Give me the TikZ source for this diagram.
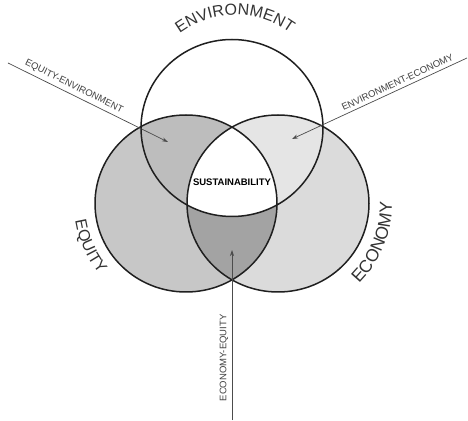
\documentclass[tikz,border=0pt]{standalone}
\usepackage{fontspec}
\setmainfont{Liberation Sans}
\usetikzlibrary{decorations.text,arrows.meta}

\definecolor{equgray}{gray}{0.78}
\definecolor{ecogray}{gray}{0.86}
\definecolor{eqenvgray}{gray}{0.74}
\definecolor{envecogray}{gray}{0.90}
\definecolor{ecoeqgray}{gray}{0.64}

\tikzset{
  ring/.style={line width=1.5pt, draw=black!88},
  pointer/.style={draw=black!70, line width=0.7pt},
  tipend/.style={pointer, -{Stealth[length=6pt,width=4pt]}},
  tipstart/.style={pointer, {Stealth[length=6pt,width=4pt]}-},
  tag/.style={font=\fontsize{9.5}{10}\selectfont, text=black!75, inner sep=1pt},
  arctag/.style={decorate, decoration={text along path, text align=center, text color=black!80, text={#1}}}
}
\newcommand{\arcfont}{\fontsize{16}{16}\selectfont}
\newcommand{\ecofont}{\fontsize{17.5}{17.5}\selectfont}
\def\ringx{91pt}
\def\ringy{88.5pt}

\begin{document}
\begin{tikzpicture}[x=1pt,y=1pt]
\useasboundingbox (0,0) rectangle (468,420);
\coordinate (env) at (232,292);
\coordinate (equ) at (186,216.5);
\coordinate (eco) at (278,216.5);

\fill[equgray] (equ) ellipse [x radius=\ringx, y radius=\ringy];
\fill[ecogray] (eco) ellipse [x radius=\ringx, y radius=\ringy];
\begin{scope}
\clip (equ) ellipse [x radius=\ringx, y radius=\ringy];
\fill[eqenvgray] (env) ellipse [x radius=\ringx, y radius=\ringy];
\end{scope}
\begin{scope}
\clip (env) ellipse [x radius=\ringx, y radius=\ringy];
\fill[envecogray] (eco) ellipse [x radius=\ringx, y radius=\ringy];
\end{scope}
\begin{scope}
\clip (equ) ellipse [x radius=\ringx, y radius=\ringy];
\fill[ecoeqgray] (eco) ellipse [x radius=\ringx, y radius=\ringy];
\end{scope}
\begin{scope}
\clip (equ) ellipse [x radius=\ringx, y radius=\ringy];
\clip (eco) ellipse [x radius=\ringx, y radius=\ringy];
\fill[white] (env) ellipse [x radius=\ringx, y radius=\ringy];
\end{scope}
\draw[ring] (env) ellipse [x radius=\ringx, y radius=\ringy];
\draw[ring] (equ) ellipse [x radius=\ringx, y radius=\ringy];
\draw[ring] (eco) ellipse [x radius=\ringx, y radius=\ringy];

\node[font=\bfseries\fontsize{9.5}{10}\selectfont, inner sep=1pt] (sust) at (232,238) {SUSTAINABILITY};

\coordinate (eqenvend) at (8,357);
\coordinate (eqenvtip) at (168,278);
\coordinate (envecoend) at (467,362);
\coordinate (envecotip) at (292,281);
\coordinate (ecoeqend) at (232,0);
\coordinate (ecoeqtip) at (232,170);
\draw[tipend] (eqenvend) -- node[tag, sloped, above=2.5pt, pos=0.39] (eqenvlabel) {EQUITY-ENVIRONMENT} (eqenvtip);
\draw[tipstart] (envecotip) -- node[tag, sloped, above=2.5pt, pos=0.62] (envecolabel) {ENVIRONMENT-ECONOMY} (envecoend);
\draw[tipend] (ecoeqend) -- node[tag, sloped, above=2.5pt, pos=0.365] (ecoeqlabel) {ECONOMY-EQUITY} (ecoeqtip);

\path[arctag={|\arcfont|ENVIRONMENT}] (235,312) ++(140:93pt) arc[start angle=140, end angle=40, radius=93pt];
\path[arctag={|\arcfont|EQUITY}] (equ) ++(174:112pt) arc[start angle=174, end angle=234, radius=112pt];
\path[arctag={|\ecofont|ECONOMY}] (eco) ++(-52:114pt) arc[start angle=-52, end angle=8, radius=114pt];
\end{tikzpicture}
\end{document}
